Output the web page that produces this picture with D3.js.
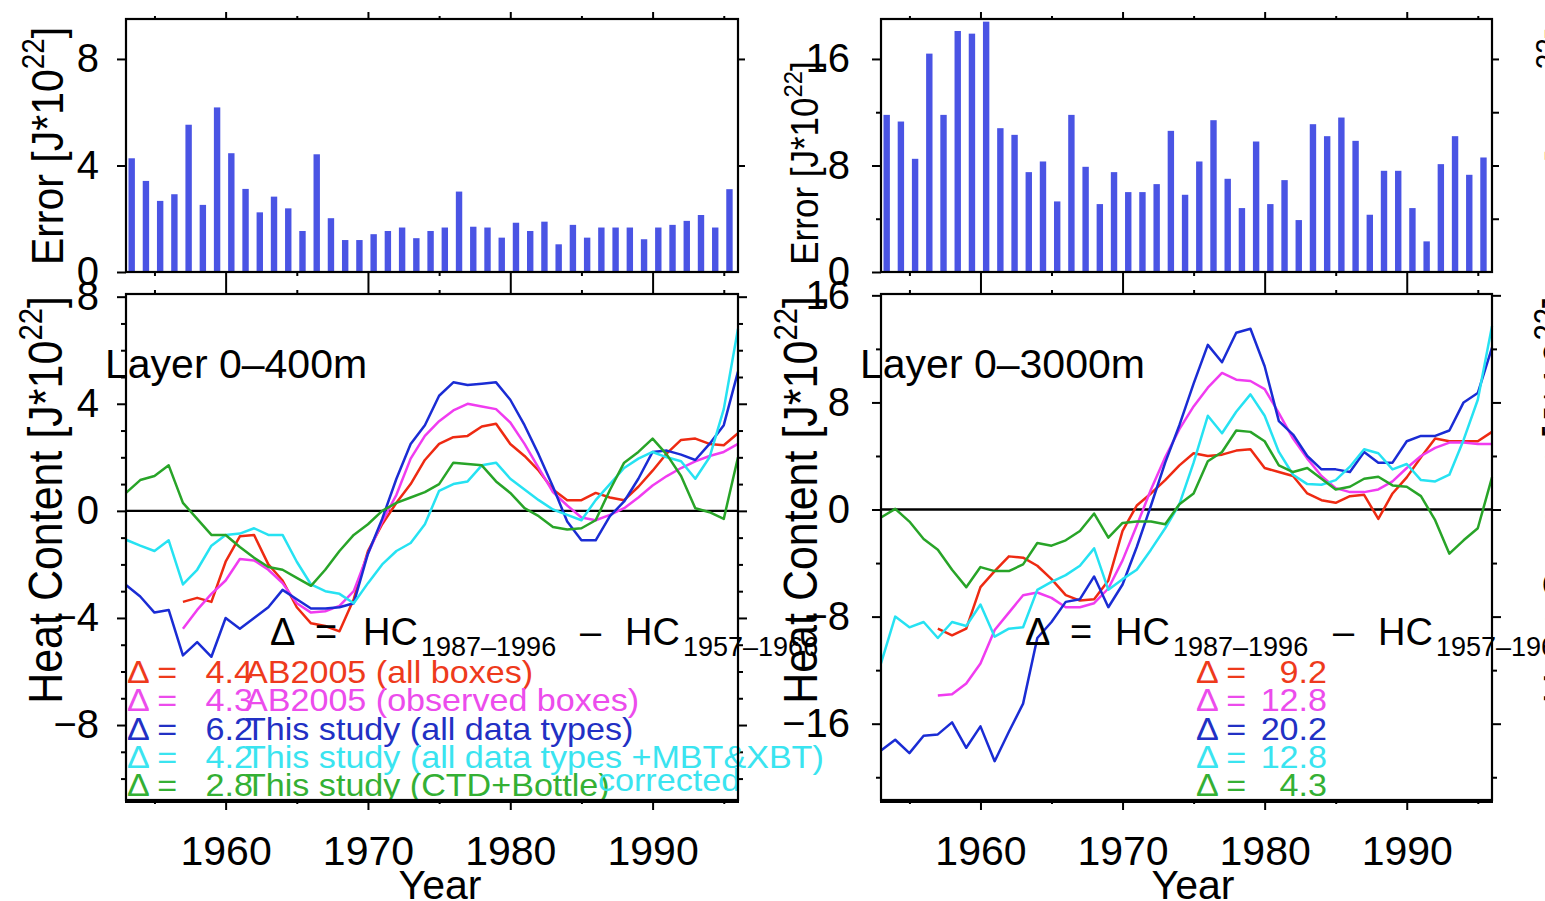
<!DOCTYPE html>
<html>
<head>
<meta charset="utf-8">
<script src="https://cdn.jsdelivr.net/npm/d3@7"></script>
<style>
  body { margin: 0; background: #fff; overflow: hidden; }
  svg { display: block; background: #fff; }
</style>
</head>
<body>
<svg width="1545" height="901"></svg>
<script>
// Years of the annual series
const years = [1953,1954,1955,1956,1957,1958,1959,1960,1961,1962,1963,1964,1965,1966,1967,1968,1969,
  1970,1971,1972,1973,1974,1975,1976,1977,1978,1979,1980,1981,1982,1983,1984,1985,1986,1987,1988,1989,
  1990,1991,1992,1993,1994,1995,1996];

// Error bars (1953-1995)
const errShallow = [4.27,3.42,2.67,2.92,5.53,2.52,6.18,4.46,3.12,2.24,2.83,2.39,1.54,4.42,2.02,1.2,1.2,
  1.42,1.54,1.67,1.27,1.54,1.67,3.02,1.7,1.67,1.29,1.85,1.54,1.89,1.04,1.77,1.29,1.67,1.67,1.67,1.23,
  1.67,1.77,1.92,2.14,1.67,3.11];
const errDeep = [11.8,11.3,8.5,16.4,11.8,18.1,17.9,18.8,10.8,10.3,7.5,8.3,5.3,11.8,7.9,5.1,7.5,6.0,6.0,
  6.6,10.6,5.8,8.3,11.4,7.0,4.8,9.8,5.1,6.9,3.9,11.1,10.2,11.6,9.85,4.3,7.6,7.6,4.8,2.3,8.1,10.2,7.3,8.6];

// Heat content, layer 0-400m
const shRed = [null,null,null,null,-3.4,-3.25,-3.4,-1.9,-0.95,-0.9,-2.0,-2.6,-3.6,-4.2,-4.3,-4.5,-3.3,
  -1.5,-0.5,0.3,1.0,1.9,2.5,2.75,2.8,3.15,3.25,2.5,2.05,1.5,0.8,0.4,0.4,0.67,0.5,0.4,0.9,1.5,2.15,2.65,
  2.7,2.5,2.45,2.9];
const shMagenta = [null,null,null,null,-4.4,-3.7,-3.1,-2.6,-1.8,-1.85,-2.2,-2.7,-3.45,-3.8,-3.75,-3.55,
  -3.0,-1.6,-0.4,0.6,1.95,2.8,3.35,3.75,4.0,3.9,3.8,3.3,2.5,1.6,0.7,0.2,-0.25,-0.35,-0.15,0.1,0.5,0.95,
  1.3,1.6,1.85,2.05,2.2,2.5];
const shBlue = [-2.77,-3.2,-3.8,-3.7,-5.4,-4.9,-5.45,-4.0,-4.4,-4.0,-3.6,-2.95,-3.3,-3.65,-3.65,-3.6,
  -3.45,-1.6,-0.3,1.2,2.5,3.2,4.3,4.8,4.7,4.75,4.8,4.15,3.2,2.1,0.9,-0.4,-1.1,-1.1,-0.2,0.35,1.2,2.2,
  2.25,2.1,1.9,2.5,3.2,5.2];
const shCyan = [-1.08,-1.3,-1.5,-1.1,-2.75,-2.2,-1.3,-0.9,-0.85,-0.65,-0.9,-0.9,-1.9,-2.75,-3.0,-3.1,
  -3.45,-2.7,-2.0,-1.5,-1.2,-0.5,0.75,1.0,1.1,1.7,1.8,1.2,0.8,0.4,0.05,-0.15,-0.35,0.4,1.0,1.6,1.95,2.2,
  2.0,1.85,1.2,2.0,3.8,6.8];
const shGreen = [0.67,1.15,1.3,1.7,0.3,-0.3,-0.9,-0.9,-1.35,-1.75,-2.1,-2.2,-2.5,-2.8,-2.2,-1.5,-0.9,
  -0.5,0.0,0.3,0.5,0.7,1.0,1.8,1.75,1.7,1.1,0.67,0.1,-0.2,-0.6,-0.7,-0.65,-0.35,0.78,1.8,2.2,2.7,2.1,1.3,
  0.1,-0.05,-0.3,2.0];

// Heat content, layer 0-3000m
const dpRed = [null,null,null,null,-8.9,-9.4,-8.9,-5.8,-4.6,-3.5,-3.6,-4.2,-5.2,-6.4,-6.8,-6.7,-5.3,
  -1.6,0.3,1.2,2.2,3.3,4.2,4.0,4.1,4.4,4.5,3.1,2.8,2.5,1.2,0.7,0.5,1.0,1.1,-0.7,1.2,2.4,3.9,5.3,5.1,5.1,
  5.1,5.8];
const dpMagenta = [null,null,null,null,-13.9,-13.8,-13.0,-11.5,-9.0,-7.7,-6.4,-6.2,-6.6,-7.3,-7.3,-7.0,
  -5.9,-3.8,-1.2,1.5,3.9,6.0,7.7,9.1,10.2,9.7,9.6,9.0,7.2,5.3,3.8,2.5,1.6,1.3,1.3,1.5,2.1,3.1,4.0,4.6,
  5.0,5.0,4.9,4.9];
const dpBlue = [-18.0,-17.2,-18.2,-16.9,-16.8,-15.9,-17.8,-16.2,-18.8,-16.6,-14.5,-9.6,-8.4,-6.9,-6.7,
  -5.0,-7.3,-5.6,-2.8,0.3,3.5,6.3,9.4,12.3,11.0,13.2,13.5,10.7,6.6,5.6,4.0,3.0,3.0,2.8,4.3,3.5,3.5,5.1,
  5.5,5.5,5.9,8.0,8.7,12.1];
const dpCyan = [-11.5,-8.0,-8.8,-8.4,-9.6,-8.4,-8.7,-7.1,-9.5,-8.9,-8.8,-6.0,-5.4,-4.9,-4.2,-2.9,-6.0,
  -5.2,-4.5,-3.0,-1.4,0.4,3.5,7.0,5.7,7.3,8.6,7.0,4.3,2.6,1.9,1.85,2.2,3.2,4.5,4.2,3.0,3.4,2.2,2.1,2.6,
  5.2,8.2,13.7];
const dpGreen = [-0.6,0.05,-0.9,-2.2,-3.0,-4.5,-5.8,-4.3,-4.6,-4.6,-4.1,-2.5,-2.7,-2.3,-1.6,-0.3,-2.1,
  -1.0,-0.9,-0.9,-1.1,0.4,1.2,3.6,4.3,5.9,5.8,5.1,3.3,2.8,3.1,2.3,1.5,1.7,2.3,2.45,1.8,1.7,1.0,-0.8,
  -3.3,-2.3,-1.4,2.4];

// Ticks and legend text
const xTickMajor = [1960, 1970, 1980, 1990];
const xTickMinor = [1955, 1965, 1975, 1985, 1995];
const seriesNames = ["AB2005 (all boxes)", "AB2005 (observed boxes)", "This study (all data types)",
  "This study (all data types +MBT&XBT)", "This study (CTD+Bottle)"];
const deltaShallow = ["4.4", "4.3", "6.2", "4.2", "2.8"];
const deltaDeep = ["9.2", "12.8", "20.2", "12.8", "4.3"];

const FONT = '"Liberation Sans", Arial, Helvetica, sans-serif';
const lineColors = ["#ee2a12", "#f03cf0", "#1a2cd4", "#26e2f2", "#28a428"];
const textColors = ["#ee3a1c", "#ec4cec", "#2230c4", "#3ae4f0", "#34b034"];

const svg = d3.select("svg");
const fmt = d => d < 0 ? "\u2212" + Math.abs(d) : String(d);

function tickAxis(gen, tr, values, size, format, pad, fontSize) {
  const g = svg.append("g").attr("transform", tr)
    .call(gen.tickValues(values).tickSize(size).tickPadding(pad || 3).tickFormat(format || (() => "")));
  g.select(".domain").remove();
  g.selectAll("line").attr("stroke", "#000").attr("stroke-width", 2);
  g.selectAll("text").attr("fill", "#000").attr("font-size", fontSize || 40).attr("font-family", FONT);
  return g;
}

function txt(x, y, s, o = {}) {
  return svg.append("text")
    .attr("transform", `translate(${x},${y}) scale(${o.sx || 1},1)`)
    .attr("text-anchor", o.anchor || "start")
    .attr("font-family", FONT)
    .attr("font-size", o.size || 40)
    .attr("fill", o.fill || "#000")
    .text(s);
}

function unitLabel(x, y, prefix, size, sy) {
  const t = svg.append("text")
    .attr("transform", `translate(${x},${y}) rotate(-90) scale(1,${sy})`)
    .attr("text-anchor", "middle").attr("font-family", FONT).attr("font-size", size);
  t.append("tspan").text(prefix + " [J*10");
  t.append("tspan").attr("font-size", size * 0.68).attr("dy", -size * 0.42).text("22");
  t.append("tspan").attr("dy", size * 0.42).text("]");
}

function drawColumn(c) {
  const x = d3.scaleLinear().domain([1953, 1996]).range([c.x0, c.x1]);
  const yE = d3.scaleLinear().domain(c.errDomain).range([272, 19]);
  const yH = d3.scaleLinear().domain(c.hcDomain).range([800, 294]);

  // ---- top panel: error bars
  svg.append("g").selectAll("rect").data(c.err).join("rect")
    .attr("x", (d, i) => x(years[i] + 0.4) - 3.2)
    .attr("width", 6.4)
    .attr("y", d => yE(d))
    .attr("height", d => yE(0) - yE(d))
    .attr("fill", "#4a54e4");

  tickAxis(d3.axisTop(x), `translate(0,19)`, xTickMajor, 7);
  tickAxis(d3.axisTop(x), `translate(0,19)`, xTickMinor, 3);
  tickAxis(d3.axisBottom(x), `translate(0,272)`, xTickMajor, 11);
  tickAxis(d3.axisBottom(x), `translate(0,272)`, xTickMinor, 4);
  tickAxis(d3.axisLeft(yE), `translate(${c.x0},0)`, c.errMajor, 9, fmt, c.labPad);
  tickAxis(d3.axisLeft(yE), `translate(${c.x0},0)`, c.errMinor, 5);
  tickAxis(d3.axisRight(yE), `translate(${c.x1},0)`, c.errRight, 7);

  svg.append("rect").attr("x", c.x0).attr("y", 19).attr("width", c.x1 - c.x0).attr("height", 253)
    .attr("fill", "none").attr("stroke", "#000").attr("stroke-width", 2.2);

  // ---- bottom panel: heat content
  svg.append("line").attr("x1", c.x0).attr("x2", c.x1).attr("y1", yH(0)).attr("y2", yH(0))
    .attr("stroke", "#000").attr("stroke-width", 2.4);

  const line = d3.line()
    .defined(d => d.v != null)
    .x(d => x(d.year))
    .y(d => yH(d.v));

  c.series.forEach((s, k) => {
    svg.append("path")
      .datum(years.map((yr, i) => ({ year: yr, v: s[i] })))
      .attr("d", line)
      .attr("fill", "none")
      .attr("stroke", lineColors[k])
      .attr("stroke-width", 2.5)
      .attr("stroke-linejoin", "round");
  });

  tickAxis(d3.axisTop(x), `translate(0,294)`, xTickMajor, 11);
  tickAxis(d3.axisTop(x), `translate(0,294)`, xTickMinor, 4);
  tickAxis(d3.axisBottom(x), `translate(0,800)`, xTickMajor, 10, d => d, 26, 41);
  tickAxis(d3.axisBottom(x), `translate(0,800)`, xTickMinor, 4);
  tickAxis(d3.axisLeft(yH), `translate(${c.x0},0)`, c.hcMajor, 9, fmt, c.labPad);
  tickAxis(d3.axisLeft(yH), `translate(${c.x0},0)`, c.hcMinor, 5);
  tickAxis(d3.axisRight(yH), `translate(${c.x1},0)`, c.hcMajor, 9);
  tickAxis(d3.axisRight(yH), `translate(${c.x1},0)`, c.hcMinor, 5);

  // layer name
  txt(c.layerX, 378, c.layer, { size: 41 });

  // delta formula
  const f = c.formula;
  txt(f[0], 645, "\u0394", { size: 38 });
  txt(f[1], 645, "=", { size: 38 });
  txt(f[2], 645, "HC", { size: 38 });
  txt(f[3], 656, "1987\u20131996", { size: 27 });
  txt(f[4], 645, "\u2013", { size: 38 });
  txt(f[5], 645, "HC", { size: 38 });
  txt(f[6], 656, "1957\u20131966", { size: 27 });

  // legend
  c.deltas.forEach((d, k) => {
    const by = 683 + 28.3 * k;
    txt(c.legX, by, "\u0394 =", { size: 31, sx: 1.1, fill: textColors[k] });
    txt(c.valX, by, d, { size: 31, sx: 1.1, fill: textColors[k], anchor: "end" });
    if (c.names) txt(c.nameX, by, c.names[k], { size: 31, sx: 1.1, fill: textColors[k] });
  });
  if (c.names) txt(598, 791, "corrected", { size: 31, sx: 1.1, fill: textColors[3] });

  // bottom frame
  svg.append("rect").attr("x", c.x0).attr("y", 294).attr("width", c.x1 - c.x0).attr("height", 506)
    .attr("fill", "none").attr("stroke", "#000").attr("stroke-width", 2.2);
  svg.append("line").attr("x1", c.x0 - 1).attr("x2", c.x1 + 1).attr("y1", 801).attr("y2", 801)
    .attr("stroke", "#000").attr("stroke-width", 4);

  // axis titles
  unitLabel(c.x0 - 63, c.errLabelY, "Error", c.errLabelSize, 1.1);
  unitLabel(c.x0 - 64, 500, "Heat Content", 43, 1.12);
  txt(c.yearX, 899, "Year", { size: 41, anchor: "middle" });
}

drawColumn({
  x0: 126, x1: 738, labPad: 18,
  err: errShallow, errDomain: [0, 9.5], errMajor: [0, 4, 8], errMinor: [], errRight: [4, 8],
  series: [shRed, shMagenta, shBlue, shCyan, shGreen], hcDomain: [-10.8, 8.1],
  hcMajor: [-8, -4, 0, 4, 8], hcMinor: [-10, -9, -7, -6, -5, -3, -2, -1, 1, 2, 3, 5, 6, 7],
  layer: "Layer 0\u2013400m", layerX: 105,
  formula: [270, 315, 363, 421, 580, 625, 683],
  deltas: deltaShallow, names: seriesNames, legX: 127, valX: 253, nameX: 245,
  errLabelY: 146, errLabelSize: 41, yearX: 440
});

drawColumn({
  x0: 881, x1: 1492, labPad: 22,
  err: errDeep, errDomain: [0, 19], errMajor: [0, 8, 16], errMinor: [4, 12], errRight: [4, 8, 12, 16],
  series: [dpRed, dpMagenta, dpBlue, dpCyan, dpGreen], hcDomain: [-21.7, 16.1],
  hcMajor: [-16, -8, 0, 8, 16], hcMinor: [-20, -12, -4, 4, 12],
  layer: "Layer 0\u20133000m", layerX: 860,
  formula: [1025, 1070, 1115, 1173, 1333, 1378, 1436],
  deltas: deltaDeep, names: null, legX: 1196, valX: 1327, nameX: 0,
  errLabelY: 163, errLabelSize: 35, yearX: 1193
});

// labels of the next (cut-off) column at the right edge
unitLabel(1577, 146, "Error", 41, 1.1);
unitLabel(1577, 500, "Heat Content", 43, 1.12);
</script>
</body>
</html>
